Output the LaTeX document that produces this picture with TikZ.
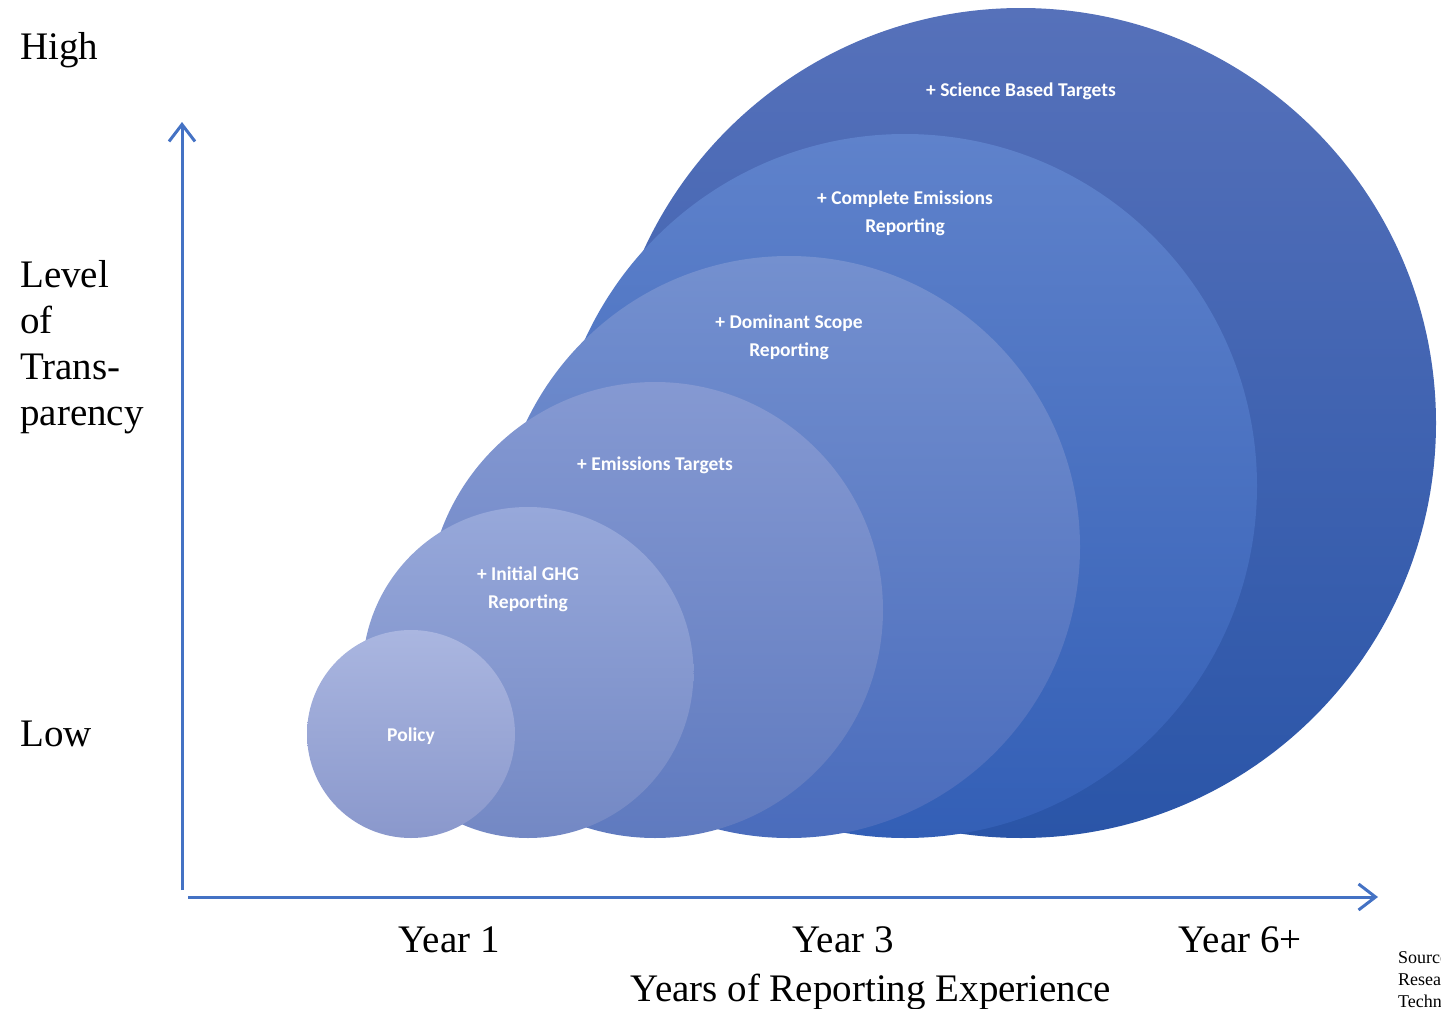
\documentclass[tikz,border=0pt]{standalone}
\usepackage{fontspec}
\setmainfont{Liberation Serif}
\newfontfamily\bubblefont{Carlito}
\usetikzlibrary{arrows.meta}

\definecolor{axisblue}{HTML}{4472C4}
% bubble gradients, top / bottom
\definecolor{bA}{HTML}{AAB6E0}\definecolor{bAb}{HTML}{8A98CC}
\definecolor{bB}{HTML}{97A8DA}\definecolor{bBb}{HTML}{7388C4}
\definecolor{bC}{HTML}{8599D2}\definecolor{bCb}{HTML}{5F7ABF}
\definecolor{bD}{HTML}{7490CF}\definecolor{bDb}{HTML}{4A6CBC}
\definecolor{bE}{HTML}{5F82CB}\definecolor{bEb}{HTML}{335FB6}
\definecolor{bF}{HTML}{5671BA}\definecolor{bFb}{HTML}{2A55A8}

\tikzset{
  axisline/.style={draw=axisblue, line width=3pt,
    -{Straight Barb[length=17pt,width=26pt,line width=3pt]}},
  axislabel/.style={inner sep=0pt, font=\fontsize{39}{46}\selectfont},
  bubblelabel/.style={inner sep=0pt, text=white, align=center,
    font=\bubblefont\bfseries\fontsize{19.5}{28}\selectfont},
  sourcelabel/.style={inner sep=0pt, anchor=base west, align=left,
    font=\fontsize{18}{22}\selectfont},
}

\begin{document}
\begin{tikzpicture}[x=1pt,y=-1pt]
\useasboundingbox (0,0) rectangle (1441,1009);

% nested stages, largest first
\shade[top color=bF, bottom color=bFb] (1021,423) circle (415);
\shade[top color=bE, bottom color=bEb] (905,486) circle (352);
\shade[top color=bD, bottom color=bDb] (789,547) circle (291);
\shade[top color=bC, bottom color=bCb] (655,610) circle (228);
\shade[top color=bB, bottom color=bBb] (528,672.5) circle (165.5);
\shade[top color=bA, bottom color=bAb] (411,734) circle (104);

% stage labels
\node[bubblelabel] (sbt)    at (1021,91)  {+ Science Based Targets};
\node[bubblelabel] (cer)    at (905,213)  {+ Complete Emissions\\Reporting};
\node[bubblelabel] (dsr)    at (789,337)  {+ Dominant Scope\\Reporting};
\node[bubblelabel] (et)     at (655,465)  {+ Emissions Targets};
\node[bubblelabel] (ighg)   at (528,589)  {+ Initial GHG\\Reporting};
\node[bubblelabel] (policy) at (411,736)  {Policy};

% axes
\coordinate (ybot) at (182,890);
\coordinate (ytop) at (182,122);
\coordinate (xleft) at (188,897);
\coordinate (xright) at (1378,897);
\draw[axisline] (ybot) -- (ytop);
\draw[axisline] (xleft) -- (xright);

% vertical axis labels (base of a stacked node is its last line)
\node[axislabel, anchor=base west] (high) at (20,59) {High};
\node[axislabel, anchor=base west, align=left] (level) at (20,425)
  {Level\\of\\Trans-\\parency};
\node[axislabel, anchor=base west] (low) at (20,746) {Low};

% horizontal axis labels
\node[axislabel, anchor=base] (y1) at (449,952) {Year 1};
\node[axislabel, anchor=base] (y3) at (843,952) {Year 3};
\node[axislabel, anchor=base] (y6) at (1240,952) {Year 6+};
\node[axislabel, anchor=base] (xtitle) at (871,1001) {Years of Reporting Experience};

% source note, running off the right edge
\node[sourcelabel] (src) at (1398,1007) {Source:\\Research\\Technology};
\end{tikzpicture}
\end{document}
